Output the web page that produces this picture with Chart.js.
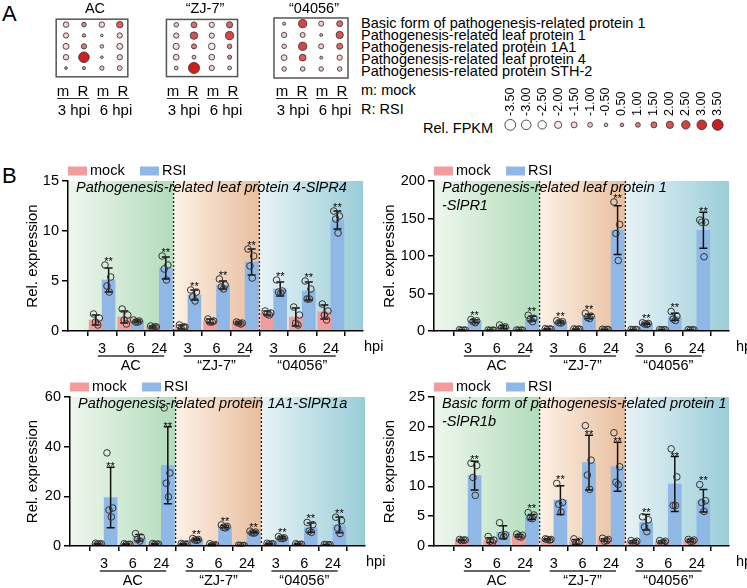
<!DOCTYPE html>
<html>
<head>
<meta charset="utf-8">
<script src="https://cdn.jsdelivr.net/npm/chart.js@4.4.0/dist/chart.umd.min.js"></script>
<style>
body { margin: 0; background: #fff; }
#fig { position: relative; width: 747px; height: 588px; overflow: hidden; font-family: 'Liberation Sans', Arial, sans-serif; color: #000; }
#fig canvas { position: absolute; }
.t { position: absolute; white-space: nowrap; font-size: 14.5px; line-height: 1; }
.c { transform: translate(-50%, -50%); }
.l { transform: translateY(-50%); }
.u { position: absolute; height: 0; border-top: 1.5px solid #333; }
</style>
</head>
<body>
<div id="fig">
  <div class="t" style="left:2px;top:3px;font-size:22px;">A</div>
  <div class="t" style="left:2px;top:165px;font-size:22px;">B</div>
  <div class="t l" style="left:423px;top:128px;">Rel. FPKM</div>
  <div class="t l" style="left:361px;top:90px;">m: mock</div>
  <div class="t l" style="left:361px;top:109px;">R: RSI</div>
  <div id="genes" class="t" style="left:361px;top:18px;line-height:11.9px;"></div>

  <canvas id="boxAC" width="84" height="70" style="left:50px;top:13px;"></canvas>
  <canvas id="boxZJ" width="84" height="70" style="left:160px;top:13px;"></canvas>
  <canvas id="box04" width="84" height="70" style="left:269px;top:13px;"></canvas>
  <canvas id="fpkmLeg" width="236" height="56" style="left:496px;top:82px;"></canvas>

  <canvas id="cTL" width="395" height="215" style="left:0px;top:160px;"></canvas>
  <canvas id="cTR" width="374" height="215" style="left:373px;top:160px;"></canvas>
  <canvas id="cBL" width="395" height="213" style="left:0px;top:375px;"></canvas>
  <canvas id="cBR" width="374" height="213" style="left:373px;top:375px;"></canvas>
</div>
<script>
const FONT = "'Liberation Sans', Arial, sans-serif";

// ---- panel A data ----
const aGroups = ['AC', '“ZJ-7”', '“04056”'];
const aCols = ['m', 'R', 'm', 'R'];
const aHpi = ['3 hpi', '6 hpi'];
const geneNames = [
    'Basic form of pathogenesis-related protein 1',
    'Pathogenesis-related leaf protein 1',
    'Pathogenesis-related protein 1A1',
    'Pathogenesis-related leaf protein 4',
    'Pathogenesis-related protein STH-2'
];
// rows = genes, cols = m3, R3, m6, R6
const fpkmAC = [
    [-1.3, 0.9, -1.3, 1.7],
    [-1.2, 0.4, -0.1, -1.2],
    [-1.5, 1.2, -0.5, -1.5],
    [-1.3, 3.4, -0.1, -1.2],
    [-0.1, 0.3, -0.8, -1.0]
];
const fpkmZJ7 = [
    [-0.9, 1.4, -1.2, 1.6],
    [-1.2, 2.1, -1.2, 2.4],
    [-1.6, 1.1, -1.8, 0.9],
    [-1.4, -0.6, -1.4, 0.7],
    [-0.6, 3.6, -1.2, -0.6]
];
const fpkm04056 = [
    [-0.3, 2.4, -1.1, 1.5],
    [-1.2, -1.1, -0.2, 2.0],
    [-0.9, 2.4, -1.1, 1.5],
    [-1.4, 1.8, -0.2, -1.2],
    [-0.9, -0.9, -0.9, -0.9]
];
const fpkmLegend = [-3.5, -3, -2.5, -2, -1.5, -1, -0.5, 0.5, 1, 1.5, 2, 2.5, 3, 3.5];

// ---- panel B data ----
const timeLabels = ['3', '6', '24'];
const bGroups = ['AC', '“ZJ-7”', '“04056”'];
const sigRSI = ['**', '', '**', '**', '**', '**', '**', '**', '**'];

const pr4MockMean = [1.1, 1.4, 0.4, 0.4, 1.0, 0.8, 1.8, 1.4, 1.9];
const pr4MockSd = [0.5, 0.6, 0.1, 0.2, 0.2, 0.1, 0.2, 0.9, 0.7];
const pr4MockPts = [[1.7,1.3,0.9,0.6],[2.2,1.6,1.1,0.7],[0.5,0.4,0.3,0.4],[0.6,0.4,0.2,0.4],[1.2,1.0,0.9,0.9],[0.9,0.8,0.8,0.7],[2.0,1.8,1.7,1.6],[2.4,1.6,0.8,0.6],[2.7,2.0,1.6,1.1]];
const pr4RsiMean = [5.1, 1.0, 6.3, 3.6, 4.6, 6.9, 4.2, 4.0, 11.1];
const pr4RsiSd = [1.2, 0.1, 1.1, 0.5, 0.4, 1.3, 0.7, 0.9, 0.9];
const pr4RsiPts = [[6.6,5.4,4.5,3.9],[1.1,1.0,0.9,0.9],[7.5,6.6,6.2,5.1],[4.1,3.9,3.4,3.0],[5.2,4.6,4.4,4.2],[8.2,7.5,6.5,5.3],[5.1,4.0,3.9,3.8],[5.0,4.2,3.2,3.2],[12.0,11.5,11.2,9.8]];

const pr1MockMean = [1.2, 1.0, 1.1, 2.6, 2.4, 2.0, 1.8, 1.6, 1.5];
const pr1MockSd = [0.4, 0.3, 0.3, 0.5, 0.4, 0.4, 0.3, 0.3, 0.3];
const pr1MockPts = [[1.7,1.2,0.9,1.0],[1.3,1.0,0.8,0.9],[1.4,1.1,0.8,1.1],[3.1,2.6,2.2,2.5],[2.8,2.4,2.0,2.4],[2.4,2.0,1.6,2.0],[2.1,1.8,1.5,1.8],[1.9,1.6,1.3,1.6],[1.8,1.5,1.2,1.5]];
const pr1RsiMean = [13.2, 5.4, 16.5, 12.0, 19.5, 134.5, 9.8, 19.0, 134.2];
const pr1RsiSd = [1.8, 2.0, 3.3, 1.4, 2.8, 32.5, 0.9, 4.8, 24.0];
const pr1RsiPts = [[15.4,13.6,12.6,11.2],[8.0,5.6,4.4,3.6],[21.0,17.0,15.6,12.4],[13.8,12.4,11.2,10.6],[23.6,19.8,18.0,16.6],[172,142,130,94],[11.0,10.1,9.4,8.7],[26,20,16,14],[148,145,145,99]];

const pr1aMockMean = [0.9, 0.7, 0.8, 0.8, 0.5, 0.2, 0.9, 0.7, 0.5];
const pr1aMockSd = [0.2, 0.2, 0.2, 0.2, 0.3, 0.1, 0.2, 0.2, 0.1];
const pr1aMockPts = [[1.1,0.9,0.8,0.8],[0.9,0.7,0.6,0.6],[1.0,0.8,0.7,0.7],[1.0,0.8,0.7,0.7],[0.9,0.5,0.3,0.3],[0.3,0.2,0.2,0.2],[1.1,0.9,0.8,0.8],[0.9,0.7,0.6,0.6],[0.6,0.5,0.5,0.4]];
const pr1aRsiMean = [19.5, 3.3, 32.5, 2.6, 7.8, 5.5, 3.3, 7.4, 8.5];
const pr1aRsiSd = [12.2, 1.3, 15.5, 0.3, 0.5, 0.3, 0.4, 1.9, 3.2];
const pr1aRsiPts = [[37.5,15.3,14.5,11.7],[5.0,3.5,2.6,2.0],[55.6,29.4,25.3,19.8],[3.0,2.6,2.4,2.3],[8.5,7.9,7.5,7.3],[6.0,5.6,5.3,5.2],[3.8,3.3,3.1,3.0],[9.5,8.6,6.0,5.5],[11.6,10.2,7.2,5.0]];

const pr1bMockMean = [1.0, 1.0, 1.7, 1.1, 0.7, 1.0, 0.7, 0.7, 0.9];
const pr1bMockSd = [0.1, 0.4, 0.2, 0.1, 0.4, 0.2, 0.2, 0.2, 0.2];
const pr1bMockPts = [[1.1,1.0,0.9,1.0],[1.6,1.0,0.8,0.6],[2.0,1.8,1.6,1.5],[1.2,1.1,1.1,1.0],[1.2,0.8,0.5,0.4],[1.3,1.1,0.8,0.9],[0.9,0.8,0.5,0.6],[0.9,0.8,0.5,0.6],[1.1,1.0,0.8,0.8]];
const pr1bRsiMean = [11.8, 2.3, 4.9, 7.7, 14.0, 13.3, 4.0, 10.4, 7.6];
const pr1bRsiSd = [2.4, 1.1, 0.4, 2.4, 4.6, 4.1, 1.3, 4.6, 1.9];
const pr1bRsiPts = [[13.9,13.5,11.5,8.5],[3.9,1.9,1.8,1.6],[5.6,5.2,4.7,4.6],[10.5,7.3,7.0,5.7],[20.2,14.4,11.9,9.5],[19.0,13.3,10.7,10.3],[4.9,4.4,3.2,2.4],[16.3,11.6,6.8,6.8],[10.3,7.6,7.3,5.8]];

// ---- styles ----
const MOCK = '#f29d9d';
const RSI = '#8fb8e7';
const shades = [['#eff7ee', '#b2dcbb'], ['#fdf1e6', '#e8be9e'], ['#e7f3f6', '#9acdd8']];
const jitter = [-0.1, 0.1, -0.03, 0.05];
const PT_R = 3.3;

const base = {
    responsive: false,
    animation: false,
    events: [],
    devicePixelRatio: 1
};

// ---- panel A texts ----
const fig = document.getElementById('fig');
document.getElementById('genes').innerHTML = geneNames.join('<br>');

function addText(txt, x, y, size) {
    const d = document.createElement('div');
    d.className = 't c';
    d.style.left = x + 'px';
    d.style.top = y + 'px';
    if (size) d.style.fontSize = size + 'px';
    d.textContent = txt;
    fig.appendChild(d);
}

const boxLeft = [52, 162, 271];
aGroups.forEach((g, k) => {
    const bx = boxLeft[k];
    addText(g, bx + 43, 8);
    aCols.forEach((c, j) => addText(c, bx + 11 + 20 * j, 90, 15));
    aHpi.forEach((h, p) => {
        const u = document.createElement('div');
        u.className = 'u';
        u.style.left = (bx + 5 + 40 * p) + 'px';
        u.style.width = '32px';
        u.style.top = '98px';
        fig.appendChild(u);
        addText(h, bx + 22 + 42 * p, 109, 15);
    });
});

// white -> pink -> red
const fpkmStops = [
    [-3.5, [255, 255, 255]], [-2.5, [255, 255, 255]], [-1.5, [250, 215, 215]],
    [-0.5, [244, 186, 186]], [0.5, [236, 150, 150]], [1.5, [226, 102, 102]],
    [2.5, [216, 64, 64]], [3.5, [206, 30, 30]]
];
function fpkmColor(v) {
    for (let i = 1; i < fpkmStops.length; i++) {
        const [v1, c1] = fpkmStops[i];
        const [v0, c0] = fpkmStops[i - 1];
        if (v <= v1) {
            const t = Math.max(0, (v - v0) / (v1 - v0));
            const c = c0.map((a, k) => Math.round(a + (c1[k] - a) * t));
            return `rgb(${c[0]},${c[1]},${c[2]})`;
        }
    }
    return 'rgb(206,30,30)';
}

const bubbleStyle = {
    backgroundColor: ctx => ctx.raw ? fpkmColor(ctx.raw.v) : '#fff',
    borderColor: '#3a3a3a',
    borderWidth: 0.9,
    radius: ctx => ctx.raw ? 1.2 + 1.2 * Math.abs(ctx.raw.v) : 2
};

const boxBorder = {
    id: 'boxBorder',
    beforeDraw(chart) {
        const {ctx, chartArea: a} = chart;
        ctx.save();
        ctx.strokeStyle = '#555';
        ctx.lineWidth = 1.5;
        ctx.strokeRect(a.left, a.top, a.right - a.left, a.bottom - a.top);
        ctx.restore();
    }
};

function bubbleBox(id, vals) {
    new Chart(document.getElementById(id), {
        type: 'bubble',
        data: {
            datasets: [{
                data: vals.flatMap((row, r) => row.map((v, c) => ({x: c, y: r, v: v}))),
                ...bubbleStyle
            }]
        },
        options: {
            ...base,
            layout: {padding: 2},
            plugins: {legend: {display: false}, tooltip: {enabled: false}},
            scales: {
                x: {display: false, min: -0.55, max: 3.45},
                y: {display: false, min: -0.5, max: 4.8, reverse: true}
            }
        },
        plugins: [boxBorder]
    });
}

bubbleBox('boxAC', fpkmAC);
bubbleBox('boxZJ', fpkmZJ7);
bubbleBox('box04', fpkm04056);

//size/colour legend
new Chart(document.getElementById('fpkmLeg'), {
    type: 'bubble',
    data: {
        datasets: [{
            data: fpkmLegend.map((v, i) => ({x: i, y: 0, v: v})),
            ...bubbleStyle
        }]
    },
    options: {
        ...base,
        layout: {padding: {top: 36}},
        plugins: {legend: {display: false}, tooltip: {enabled: false}},
        scales: {
            x: {display: false, min: -0.5, max: 13.5},
            y: {display: false, min: -1, max: 1}
        }
    },
    plugins: [{
        id: 'legLabels',
        afterDraw(chart) {
            const {ctx, chartArea: a} = chart;
            const meta = chart.getDatasetMeta(0);
            ctx.save();
            ctx.font = '12.5px ' + FONT;
            ctx.fillStyle = '#000';
            ctx.textAlign = 'left';
            ctx.textBaseline = 'middle';
            meta.data.forEach((pt, i) => {
                ctx.save();
                ctx.translate(pt.x, a.top - 2);
                ctx.rotate(-Math.PI / 2);
                ctx.fillText(fpkmLegend[i].toFixed(2), 0, 0);
                ctx.restore();
            });
            ctx.restore();
        }
    }]
});

// ---- panel B ----
const barDecor = {
    id: 'barDecor',
    beforeDraw(chart) {
        const {ctx, chartArea: a, scales: {x}} = chart;
        ctx.save();
        shades.forEach((s, k) => {
            const x0 = k === 0 ? a.left : x.getPixelForValue(k * 3 - 0.5);
            const x1 = k === shades.length - 1 ? a.right : x.getPixelForValue(k * 3 + 2.5);
            const g = ctx.createLinearGradient(x0, 0, x1, 0);
            g.addColorStop(0, s[0]);
            g.addColorStop(1, s[1]);
            ctx.fillStyle = g;
            ctx.fillRect(x0, a.top, x1 - x0, a.bottom - a.top);
        });
        ctx.restore();
    },
    beforeDatasetsDraw(chart) {
        const {ctx, chartArea: a, scales: {x}} = chart;
        ctx.save();
        ctx.strokeStyle = '#222';
        ctx.lineWidth = 1.3;
        ctx.setLineDash([2, 2]);
        [2.5, 5.5].forEach(v => {
            const px = x.getPixelForValue(v);
            ctx.beginPath();
            ctx.moveTo(px, a.top);
            ctx.lineTo(px, a.bottom);
            ctx.stroke();
        });
        ctx.restore();
    },
    afterDatasetDraw(chart, args) {
        const ds = chart.data.datasets[args.index];
        if (!ds.sd) return;
        const {ctx, scales: {y}} = chart;
        ctx.save();
        ctx.strokeStyle = '#111';
        ctx.lineWidth = 1.5;
        args.meta.data.forEach((bar, i) => {
            const m = ds.data[i].y;
            const s = ds.sd[i];
            const yt = y.getPixelForValue(m + s);
            const yb = y.getPixelForValue(Math.max(m - s, 0));
            ctx.beginPath();
            ctx.moveTo(bar.x, yt); ctx.lineTo(bar.x, yb);
            ctx.moveTo(bar.x - 4, yt); ctx.lineTo(bar.x + 4, yt);
            ctx.moveTo(bar.x - 4, yb); ctx.lineTo(bar.x + 4, yb);
            ctx.stroke();
        });
        ctx.restore();
    },
    afterDraw(chart, args, opts) {
        const {ctx, chartArea: a, scales: {x, y}} = chart;
        ctx.save();
        // legend row
        let lx = a.left;
        const ly = a.top - 10;
        chart.data.datasets.slice(0, 2).forEach(ds => {
            ctx.fillStyle = ds.backgroundColor;
            ctx.fillRect(lx, ly - 4.5, 19, 9);
            ctx.fillStyle = '#000';
            ctx.font = '14.5px ' + FONT;
            ctx.textAlign = 'left';
            ctx.textBaseline = 'middle';
            ctx.fillText(ds.label, lx + 22, ly);
            lx += 72;
        });
        // gene title
        ctx.font = 'italic 14.5px ' + FONT;
        opts.title.forEach((line, k) => ctx.fillText(line, a.left + 8, a.top + 7 + 18 * k));
        // stars: above the cap, or above the top dot when it sits just over the cap
        const rsi = chart.data.datasets[1];
        const meta = chart.getDatasetMeta(1);
        ctx.font = '11px ' + FONT;
        ctx.textAlign = 'center';
        ctx.textBaseline = 'alphabetic';
        meta.data.forEach((bar, i) => {
            if (!rsi.stars[i]) return;
            const cap = y.getPixelForValue(rsi.data[i].y + rsi.sd[i]);
            const top = y.getPixelForValue(Math.max(...opts.rsiPts[i]));
            let sy = cap;
            if (top < cap && cap - top < 6) sy = top - PT_R;
            else if (top >= cap) sy = Math.min(cap, top - PT_R);
            ctx.fillText(rsi.stars[i], bar.x, sy + 3);
        });
        // group lines and names
        ctx.strokeStyle = '#333';
        ctx.lineWidth = 1.5;
        ctx.font = '14.5px ' + FONT;
        ctx.textBaseline = 'middle';
        bGroups.forEach((g, k) => {
            const x0 = x.getPixelForValue(k * 3 - 0.15);
            const x1 = x.getPixelForValue(k * 3 + 2.17);
            ctx.beginPath();
            ctx.moveTo(x0, a.bottom + 25);
            ctx.lineTo(x1, a.bottom + 25);
            ctx.stroke();
            ctx.fillText(g, x.getPixelForValue(k * 3 + 1), a.bottom + 35);
        });
        ctx.textAlign = 'left';
        ctx.fillText('hpi', a.right + opts.hpiDx, a.bottom + 16);
        ctx.restore();
    }
};

function makeBars(id, lay, title, yMax, yStep, mockMean, mockSd, mockPts, rsiMean, rsiSd, rsiPts) {
    const points = [];
    mockPts.forEach((pts, i) => pts.forEach((v, j) => points.push({x: i - 0.2 + jitter[j], y: v})));
    rsiPts.forEach((pts, i) => pts.forEach((v, j) => points.push({x: i + 0.2 + jitter[j], y: v})));

    return new Chart(document.getElementById(id), {
        type: 'bar',
        data: {
            datasets: [
                {label: 'mock', data: mockMean.map((v, i) => ({x: i, y: v})), sd: mockSd,
                 backgroundColor: MOCK, barThickness: 13, order: 2},
                {label: 'RSI', data: rsiMean.map((v, i) => ({x: i, y: v})), sd: rsiSd, stars: sigRSI,
                 backgroundColor: RSI, barThickness: 13, order: 2},
                {type: 'scatter', data: points, pointRadius: PT_R, borderWidth: 1,
                 borderColor: '#333', backgroundColor: 'rgba(255,255,255,0)', order: 1}
            ]
        },
        options: {
            ...base,
            layout: {padding: lay.pad},
            plugins: {
                legend: {display: false},
                tooltip: {enabled: false},
                barDecor: {title: title, hpiDx: lay.hpiDx, rsiPts: rsiPts}
            },
            scales: {
                x: {
                    type: 'linear',
                    bounds: 'data',
                    min: -0.62,
                    max: 8.55,
                    afterBuildTicks: s => { s.ticks = mockMean.map((_, i) => ({value: i})); },
                    afterFit: s => { s.height = lay.xH; },
                    ticks: {
                        callback: v => timeLabels[v % 3],
                        autoSkip: false, maxRotation: 0, padding: 4,
                        color: '#000', font: {size: 14.5, family: FONT}
                    },
                    grid: {drawOnChartArea: false, drawTicks: true, tickLength: 5, color: '#000', lineWidth: 1.5},
                    border: {display: true, color: '#000', width: 1.5, z: 1}
                },
                y: {
                    min: 0,
                    max: yMax,
                    afterFit: s => { s.width = lay.yW; },
                    ticks: {stepSize: yStep, padding: 3, color: '#000', font: {size: 14.5, family: FONT}},
                    grid: {drawOnChartArea: false, drawTicks: true, tickLength: 6, color: '#000', lineWidth: 1.5},
                    border: {display: true, color: '#000', width: 1.5, z: 1},
                    title: {display: true, text: 'Rel. expression', color: '#000',
                            font: {size: 15, family: FONT}, padding: {top: 4, bottom: 4}}
                }
            }
        },
        plugins: [barDecor]
    });
}

makeBars('cTL', {pad: {top: 21, left: 20, right: 32, bottom: 0}, yW: 48, xH: 44, hpiDx: 1},
    ['Pathogenesis-related leaf protein 4-SlPR4'], 15, 5,
    pr4MockMean, pr4MockSd, pr4MockPts, pr4RsiMean, pr4RsiSd, pr4RsiPts);

makeBars('cTR', {pad: {top: 21, left: 4, right: 18, bottom: 0}, yW: 57, xH: 44, hpiDx: 7},
    ['Pathogenesis-related leaf protein 1', '-SlPR1'], 200, 50,
    pr1MockMean, pr1MockSd, pr1MockPts, pr1RsiMean, pr1RsiSd, pr1RsiPts);

makeBars('cBL', {pad: {top: 22, left: 20, right: 30, bottom: 0}, yW: 50, xH: 42, hpiDx: 1},
    ['Pathogenesis-related protein 1A1-SlPR1a'], 60, 20,
    pr1aMockMean, pr1aMockSd, pr1aMockPts, pr1aRsiMean, pr1aRsiSd, pr1aRsiPts);

makeBars('cBR', {pad: {top: 22, left: 4, right: 18, bottom: 0}, yW: 57, xH: 42, hpiDx: 7},
    ['Basic form of pathogenesis-related protein 1', '-SlPR1b'], 25, 5,
    pr1bMockMean, pr1bMockSd, pr1bMockPts, pr1bRsiMean, pr1bRsiSd, pr1bRsiPts);
</script>
</body>
</html>
